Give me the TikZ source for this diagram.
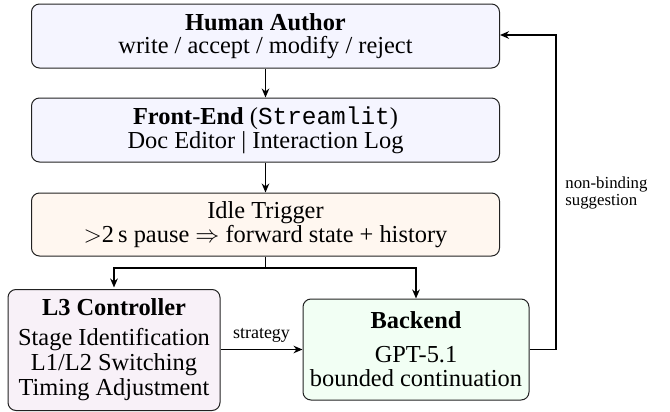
\documentclass[tikz,border=0pt]{standalone}
\usepackage{fontspec}
\setmainfont{Liberation Serif}
\setmonofont{Liberation Mono}
\usetikzlibrary{arrows.meta,calc}
\definecolor{haFill}{HTML}{F5F5FF}
\definecolor{itFill}{HTML}{FFF7F0}
\definecolor{lcFill}{HTML}{F8F1F8}
\definecolor{beFill}{HTML}{F2FFF4}
\definecolor{bord}{HTML}{222222}
\begin{document}
\begin{tikzpicture}[x=0.5pt,y=-0.5pt,
  box/.style={draw=bord,line width=0.5pt,rounded corners=4pt,align=center,
    inner sep=0pt,font=\fontsize{12.2}{11.8}\selectfont},
  conn/.style={line width=0.8pt,-{Stealth[length=4.5pt,width=3.8pt]}},
  lab/.style={font=\fontsize{9}{8.6}\selectfont,inner sep=1pt}]
\useasboundingbox (0,0) rectangle (670,412);
\node[box,fill=haFill,minimum width=234pt,minimum height=32pt] (ha) at (265.5,36)
  {\textbf{Human Author}\\write / accept / modify / reject};
\node[box,fill=haFill,minimum width=234pt,minimum height=32pt] (fe) at (265.5,130)
  {\textbf{Front-End} (\texttt{Streamlit})\\Doc Editor | Interaction Log};
\node[box,fill=itFill,minimum width=234pt,minimum height=31.5pt] (it) at (265.5,224.5)
  {Idle Trigger\\$>$2\,s pause $\Rightarrow$ forward state + history};
\node[box,fill=lcFill,minimum width=106pt,minimum height=60.5pt,
  font=\fontsize{12.2}{12.5}\selectfont] (lc) at (114,350)
  {\textbf{L3 Controller}\\[2.5pt]Stage Identification\\L1/L2 Switching\\Timing Adjustment};
\node[box,fill=beFill,minimum width=113pt,minimum height=50.5pt,
  font=\fontsize{12.2}{12.2}\selectfont] (be) at (416,349.5)
  {\textbf{Backend}\\[4.5pt]GPT-5.1\\bounded continuation};
\coordinate (split) at (265.5,268);
\coordinate (fbr) at (556,349.5);
\coordinate (fbt) at (556,35);
\draw[conn] (ha) -- (fe);
\draw[conn] (fe) -- (it);
\draw[line width=0.8pt] (it.south) -- (split);
\draw[conn] (split) -| ([yshift=0.75pt]lc.north);
\draw[conn] (split) -| (be.north);
\draw[conn] (lc.east |- be.west) -- node[lab,above=2pt] (st) {strategy} (be.west);
\draw[conn] (be.east) -- (fbr) -- (fbt) -- (ha.east |- fbt);
\node[lab,anchor=west,align=left,font=\fontsize{8.4}{8.4}\selectfont] (nb) at (563,193) {non-binding\\suggestion};
\end{tikzpicture}
\end{document}
